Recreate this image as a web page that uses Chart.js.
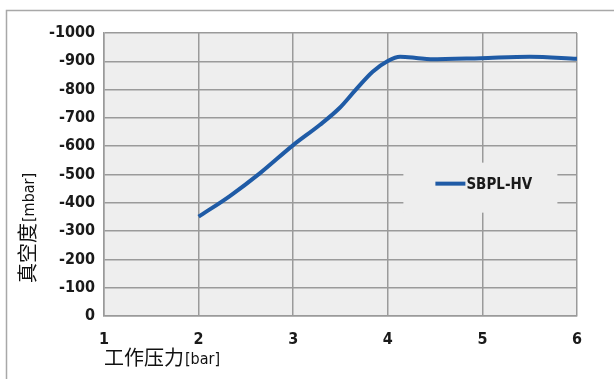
<!DOCTYPE html>
<html><head><meta charset="utf-8">
<script src="https://cdn.jsdelivr.net/npm/chart.js@4/dist/chart.umd.min.js"></script>
<style>html,body{margin:0;padding:0;background:#fff}#wrap{width:614px;height:379px;position:relative}</style>
</head><body><div id="wrap"><canvas id="c" width="614" height="379"></canvas></div>
<script>
const pressures = [2.0, 2.33, 2.65, 3.0, 3.28, 3.49, 3.66, 3.84, 4.0, 4.13, 4.3, 4.45, 4.98, 5.5, 6.0];
const vacuum = [-351, -424, -505, -604, -675, -735, -799, -863, -901, -916, -912, -907, -911, -916, -909];
const xTicks = [1, 2, 3, 4, 5, 6];
const yTicks = [0, -100, -200, -300, -400, -500, -600, -700, -800, -900, -1000];
const seriesName = 'SBPL-HV';
const xTitle = ['工作压力', '[bar]'];
const yTitle = ['真空度', '[mbar]'];

const LINE_COLOR = '#1f5ba6';
const GRID = '#9a9a9a';
const PLOT_BG = '#eeeeee';
const NARROW = '"DejaVu Sans Condensed", "Liberation Sans Narrow", "Open Sans", sans-serif';

const extras = {
  id: 'extras',
  beforeDraw(chart) {
    const {ctx, chartArea: a} = chart;
    ctx.save();
    ctx.fillStyle = PLOT_BG;
    ctx.fillRect(a.left, a.top, a.right - a.left, a.bottom - a.top);
    ctx.strokeStyle = '#a8a8a8';
    ctx.lineWidth = 1.5;
    ctx.beginPath();
    ctx.moveTo(6.5, 379); ctx.lineTo(6.5, 10.5); ctx.lineTo(614, 10.5);
    ctx.stroke();
    ctx.restore();
  },
  afterDraw(chart) {
    const {ctx, chartArea: a, scales: {x, y}} = chart;
    ctx.save();
    const lx = x.getPixelForValue(5), ly = y.getPixelForValue(-450);
    ctx.fillStyle = PLOT_BG;
    ctx.fillRect(lx - 79, ly - 26, 154, 50);
    ctx.strokeStyle = LINE_COLOR; ctx.lineWidth = 4;
    ctx.beginPath(); ctx.moveTo(lx - 47, ly - 5); ctx.lineTo(lx - 17, ly - 5); ctx.stroke();
    ctx.fillStyle = '#1a1a1a';
    ctx.font = 'bold 15px ' + NARROW;
    ctx.textBaseline = 'middle'; ctx.textAlign = 'left';
    ctx.fillText(seriesName, lx - 16, ly - 4);
    ctx.textBaseline = 'alphabetic';
    ctx.font = '20px "Noto Sans CJK SC", sans-serif';
    ctx.fillStyle = '#111';
    const xt0 = a.left;
    ctx.fillText(xTitle[0], xt0, 365);
    const w0 = ctx.measureText(xTitle[0]).width;
    ctx.font = '16px ' + NARROW;
    ctx.fillText(xTitle[1], xt0 + w0 + 1, 364);
    ctx.translate(35, 283);
    ctx.rotate(-Math.PI / 2);
    ctx.font = '20px "Noto Sans CJK SC", sans-serif';
    ctx.fillText(yTitle[0], 0, 0);
    const w1 = ctx.measureText(yTitle[0]).width;
    ctx.font = '16px ' + NARROW;
    ctx.fillText(yTitle[1], w1 + 1, -1);
    ctx.restore();
  }
};

new Chart(document.getElementById('c'), {
  type: 'line',
  data: {
    datasets: [{
      label: seriesName,
      data: pressures.map((p, i) => ({x: p, y: vacuum[i]})),
      borderColor: LINE_COLOR,
      borderWidth: 4,
      pointRadius: 0,
      tension: 0.4,
      cubicInterpolationMode: 'monotone',
      fill: false
    }]
  },
  options: {
    responsive: false,
    animation: false,
    layout: {padding: {top: 33, right: 37, left: 0, bottom: 0}},
    plugins: {legend: {display: false}, tooltip: {enabled: false}},
    scales: {
      x: {
        type: 'linear', min: 1, max: 6,
        afterBuildTicks: s => { s.ticks = xTicks.map(v => ({value: v})); },
        afterFit: s => { s.height = 63; },
        grid: {color: GRID, lineWidth: 1.5, drawTicks: false},
        border: {color: GRID, width: 1.5},
        ticks: {padding: 14, color: '#1a1a1a', callback: v => String(v), font: {family: NARROW, size: 16, weight: 'bold'}}
      },
      y: {
        type: 'linear', min: -1000, max: 0, reverse: true,
        afterBuildTicks: s => { s.ticks = yTicks.map(v => ({value: v})); },
        afterFit: s => { s.width = 104; },
        grid: {color: GRID, lineWidth: 1.5, drawTicks: false},
        border: {color: GRID, width: 1.5},
        ticks: {padding: 9, color: '#1a1a1a', callback: v => String(v), font: {family: NARROW, size: 16, weight: 'bold'}}
      }
    }
  },
  plugins: [extras]
});
</script></body></html>
